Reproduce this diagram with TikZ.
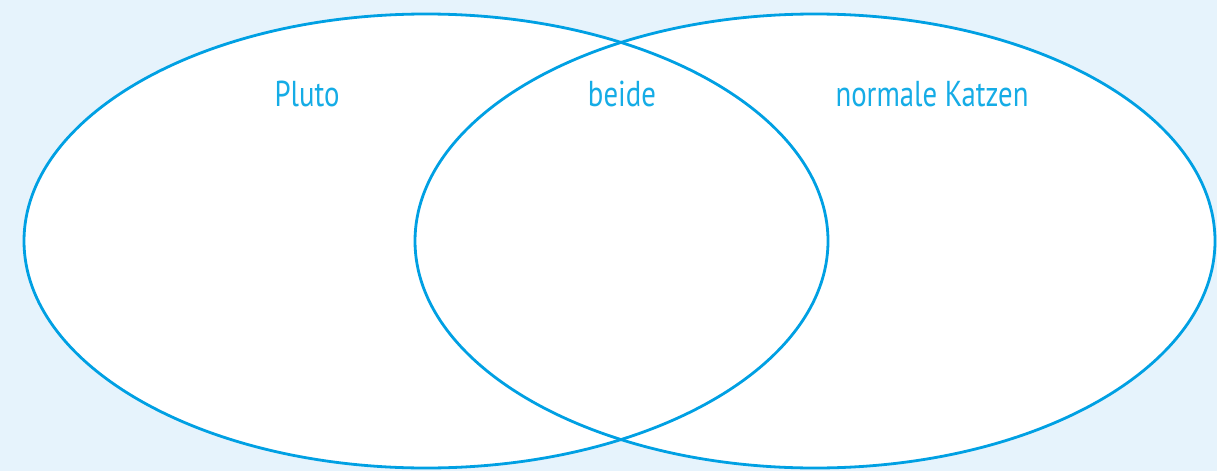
\documentclass[tikz,border=0pt]{standalone}
\usepackage{fontspec}
\usepackage{xcolor}
\newfontfamily\setfont[FakeStretch=0.8]{PT Sans}
\definecolor{vennblue}{HTML}{00A0E3}
\definecolor{labelblue}{HTML}{15ACE6}
\definecolor{paleblue}{HTML}{E6F3FC}
\usetikzlibrary{positioning}

\begin{document}
\begin{tikzpicture}[
  x=1pt, y=-1pt,
  setline/.style={draw=vennblue, line width=2.8pt},
  setfill/.style={fill=white},
  lbl/.style={font=\setfont\fontsize{36}{40}\selectfont, text=labelblue,
              anchor=base, inner sep=0pt}
]
\fill[paleblue] (0,0) rectangle (1217,471);
\useasboundingbox (0,0) rectangle (1217,471);
\coordinate (pluto) at (426,241);
\coordinate (katzen) at (815,241);
% white inside of both sets first, outlines on top
\path[setfill] (pluto) ellipse [x radius=402, y radius=227];
\path[setfill] (katzen) ellipse [x radius=400, y radius=227];
\draw[setline] (pluto) ellipse [x radius=402, y radius=227];
\draw[setline] (katzen) ellipse [x radius=400, y radius=227];
\node[lbl] (plutolbl) at (307,106) {Pluto};
\node[lbl] (beidelbl) at (622,106) {beide};
\node[lbl] (katzenlbl) at (932,106) {normale Katzen};
\end{tikzpicture}
\end{document}
